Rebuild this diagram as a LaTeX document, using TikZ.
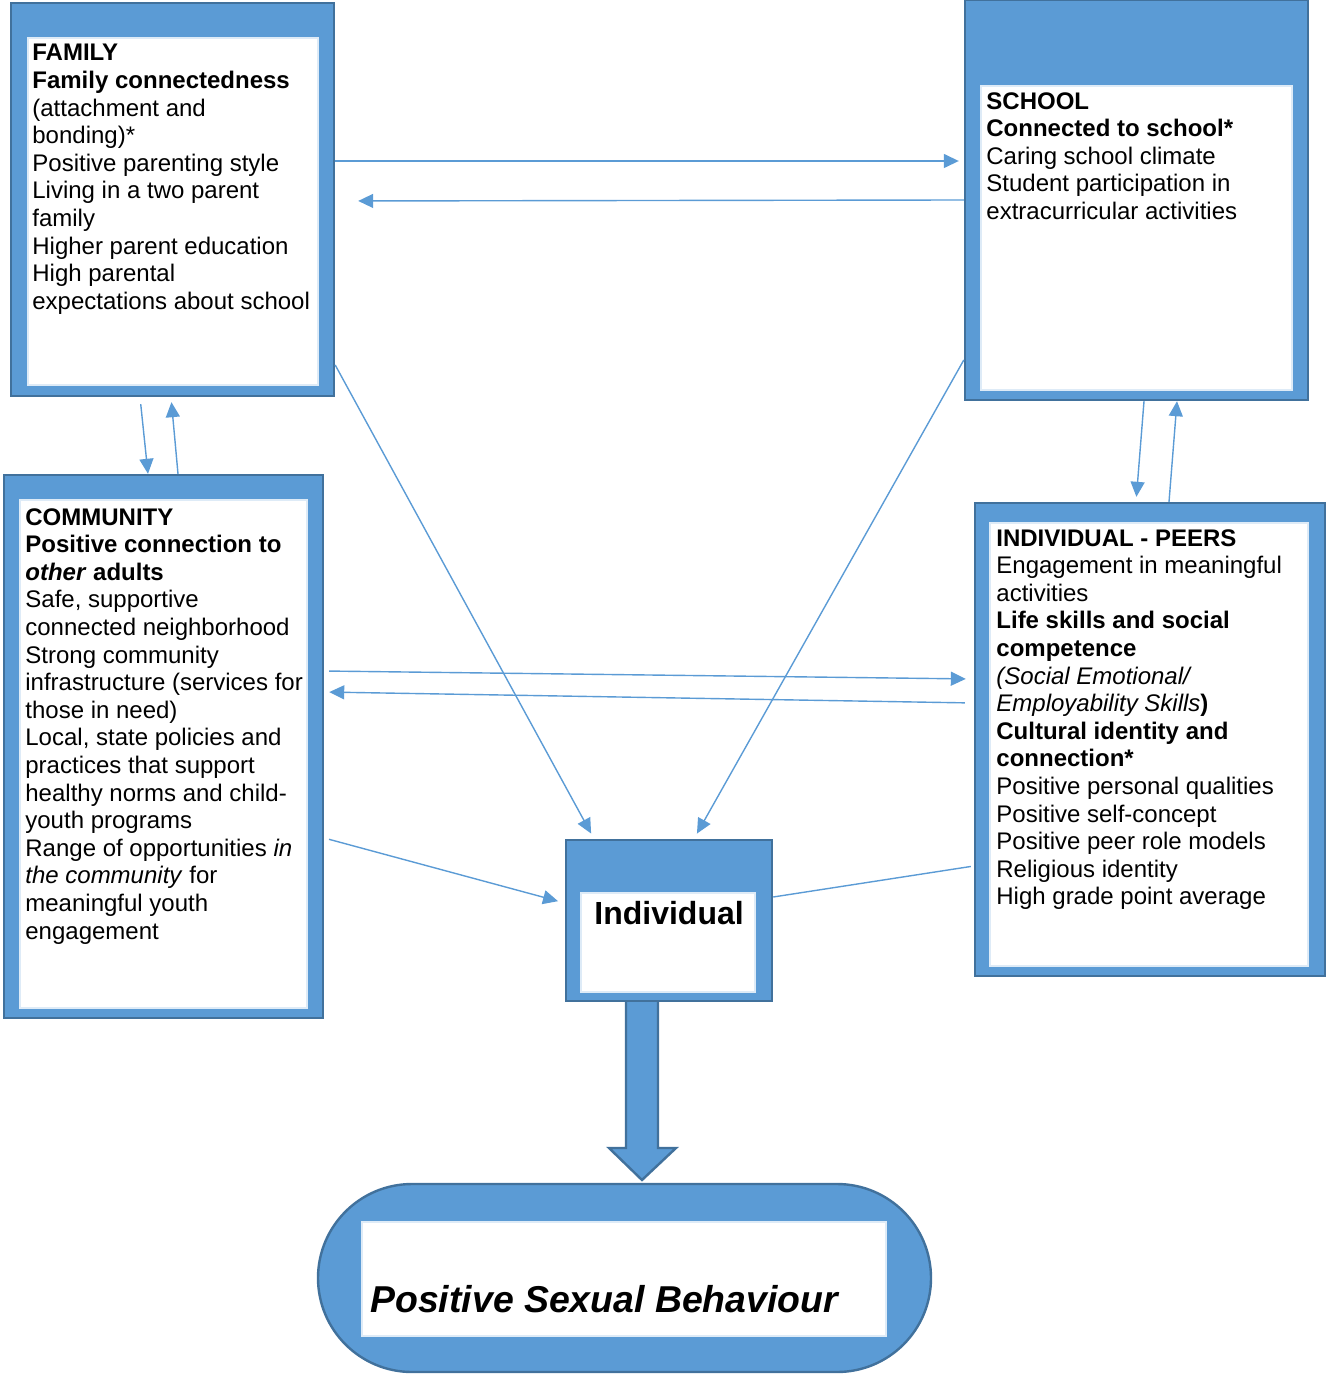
\documentclass[tikz,border=0pt]{standalone}
\usepackage{fontspec}
\setmainfont{Liberation Sans}
\usetikzlibrary{fit,arrows.meta,calc}
\definecolor{boxfill}{HTML}{5B9BD5}
\definecolor{boxline}{HTML}{41719C}
\definecolor{innerline}{HTML}{DEEBF7}
\tikzset{
  outerbox/.style={inner sep=0pt, fill=boxfill, draw=boxline, line width=1.2pt},
  innerbox/.style={inner sep=0pt, fill=white, draw=innerline, line width=0.6pt},
  txt/.style={anchor=north west, inner sep=0pt, align=left, font=\fontsize{12pt}{13.8pt}\selectfont},
  conn/.style={draw=boxfill, line width=0.7pt},
  arr/.style={conn, -{Triangle[length=7.5pt,width=7pt]}},
}
\begin{document}
\begin{tikzpicture}[x=0.5pt,y=-0.5pt]
\useasboundingbox (0,0) rectangle (1330,1374);

% FAMILY
\node[outerbox, fit={(11,3) (334,396)}] (family) {};
\node[innerbox, fit={(28,38) (318,385)}] (familyin) {};
\node[txt] (familytext) at (32,44) {\textbf{FAMILY}\\
\textbf{Family connectedness}\\
(attachment and\\
bonding)*\\
Positive parenting style\\
Living in a two parent\\
family\\
Higher parent education\\
High parental\\
expectations about school};

% SCHOOL
\node[outerbox, fit={(965,0) (1308,400)}] (school) {};
\node[innerbox, fit={(981,86) (1292,390)}] (schoolin) {};
\node[txt] (schooltext) at (986,92) {\textbf{SCHOOL}\\
\textbf{Connected to school*}\\
Caring school climate\\
Student participation in\\
extracurricular activities};

% COMMUNITY
\node[outerbox, fit={(4,475) (323,1018)}] (community) {};
\node[innerbox, fit={(20,500) (307,1008)}] (communityin) {};
\node[txt] (communitytext) at (25,508) {\textbf{COMMUNITY}\\
\textbf{Positive connection to}\\
\textbf{\textit{other} adults}\\
Safe, supportive\\
connected neighborhood\\
Strong community\\
infrastructure (services for\\
those in need)\\
Local, state policies and\\
practices that support\\
healthy norms and child-\\
youth programs\\
Range of opportunities \textit{in}\\
\textit{the community} for\\
meaningful youth\\
engagement};

% INDIVIDUAL - PEERS
\node[outerbox, fit={(975,503) (1325,976)}] (peers) {};
\node[innerbox, fit={(990,523) (1308,966)}] (peersin) {};
\node[txt] (peerstext) at (996,529) {\textbf{INDIVIDUAL - PEERS}\\
Engagement in meaningful\\
activities\\
\textbf{Life skills and social}\\
\textbf{competence}\\
\textit{(Social Emotional/}\\
\textit{Employability Skills}\textbf{)}\\
\textbf{Cultural identity and}\\
\textbf{connection*}\\
Positive personal qualities\\
Positive self-concept\\
Positive peer role models\\
Religious identity\\
High grade point average};

% Individual
\node[outerbox, fit={(566,840) (772,1001)}] (individual) {};
\node[innerbox, fit={(581,893) (755,992)}] (individualin) {};
\node[anchor=north west, inner sep=0pt, font=\fontsize{16pt}{18pt}\selectfont\bfseries] (individualtext) at (594,901) {Individual};

% Big arrow
\draw[fill=boxfill, draw=boxline, line width=1.2pt]
  (individual.south -| 626,0) -- (626,1148) -- (609,1148) -- (642,1180)
  -- (676,1148) -- (658,1148) -- (individual.south -| 658,0);

% Positive Sexual Behaviour
\node[outerbox, fit={(318,1184) (931,1372)}, rounded corners=47pt] (behaviour) {};
\node[innerbox, fit={(362,1222) (886,1336)}] (behaviourin) {};
\node[anchor=north west, inner sep=0pt, font=\fontsize{18.7pt}{22pt}\selectfont\bfseries\itshape] (behaviourtext) at (370,1285) {Positive Sexual Behaviour};

% Connectors
\draw[arr, shorten >=2.5pt] (family.east |- 0,161) -- (school.west |- 0,161);
\draw[arr, shorten >=11.5pt] (school.west |- 0,200) -- (family.east |- 0,201);

\draw[arr, shorten <=3.5pt] (family.south -| 140,0) -- (community.north -| 148,0);
\draw[arr, shorten >=2.5pt] (community.north -| 178,0) -- (family.south -| 171,0);

\draw[arr, shorten >=2.5pt] (school.south -| 1144,0) -- (peers.north -| 1136,0);
\draw[arr] (peers.north -| 1169,0) -- (school.south -| 1177,0);

\draw[arr, shorten <=2.5pt, shorten >=4pt] (community.east |- 0,671) -- (peers.west |- 0,679);
\draw[arr, shorten <=4.5pt, shorten >=2.5pt] (peers.west |- 0,703) -- (community.east |- 0,692);

\draw[arr, shorten >=3pt] (family.east |- 0,365) -- (individual.north -| 594,0);
\draw[arr, shorten >=3pt] (school.west |- 0,360) -- (individual.north -| 694,0);
\draw[arr, shorten <=2.5pt, shorten >=3.5pt] (community.east |- 0,838) -- (individual.west |- 0,903);
\draw[conn, shorten <=1.5pt] (peers.west |- 0,866) -- (individual.east |- 0,897);
\end{tikzpicture}
\end{document}
